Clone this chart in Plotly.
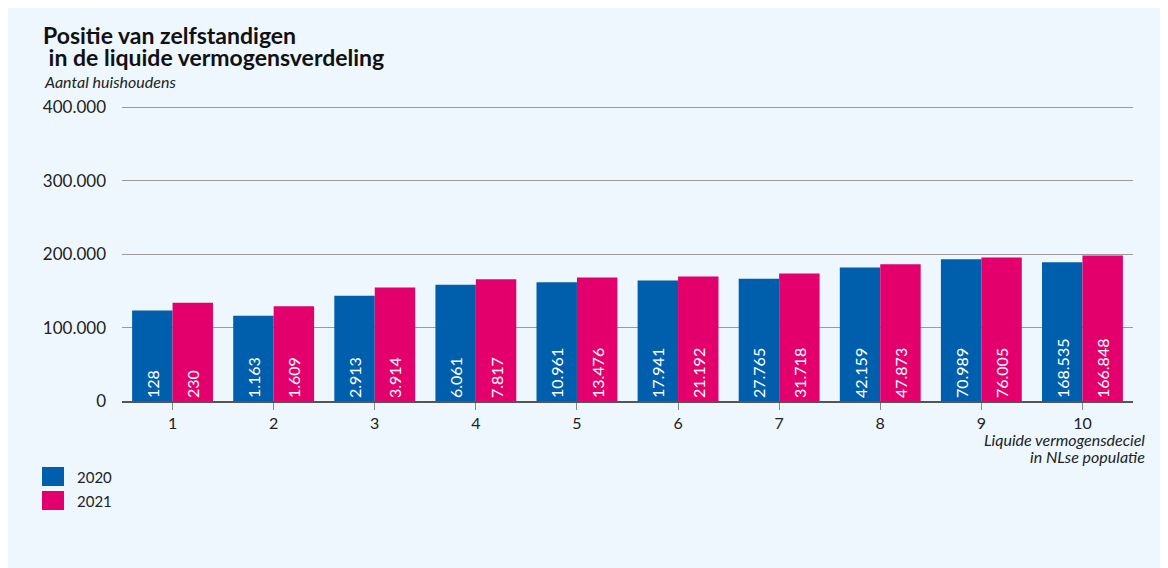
import plotly.graph_objects as go

W, H = 1168, 568
OFF = 8  # page body margin
L, R = 114, 43
T, B = 92, 175

categories = ["1", "2", "3", "4", "5", "6", "7", "8", "9", "10"]
values_2020 = [123400, 116000, 143300, 158200, 161900, 164200, 166400, 181900, 193200, 189100]
values_2021 = [133700, 129200, 154700, 166000, 168300, 169600, 173700, 186400, 195500, 198200]
labels_2020 = ["128", "1.163", "2.913", "6.061", "10.961", "17.941", "27.765", "42.159", "70.989", "168.535"]
labels_2021 = ["230", "1.609", "3.914", "7.817", "13.476", "21.192", "31.718", "47.873", "76.005", "166.848"]
y_ticks = [0, 100000, 200000, 300000, 400000]
y_tick_labels = ["0", "100.000", "200.000", "300.000", "400.000"]

BLUE = "#005FAD"
PINK = "#E3006D"
BG = "#EDF7FD"
FONT = "Lato"

pw, ph = W - L - R, H - T - B


def px(x):
    return (x - OFF - L) / pw


def py(y):
    return (H - B - (y - OFF)) / ph


fig = go.Figure()
for name, vals, labs, col in [("2020", values_2020, labels_2020, BLUE),
                               ("2021", values_2021, labels_2021, PINK)]:
    fig.add_trace(go.Bar(
        x=categories, y=vals, name=name, text=labs,
        texttemplate="%{text}", textposition="inside", insidetextanchor="start",
        textangle=-90, textfont=dict(color="white", size=16, family=FONT),
        marker=dict(color=col, line=dict(width=0)),
        cliponaxis=False, hoverinfo="skip",
    ))

annotations = [
    dict(x=px(41), y=py(35), xanchor="left", yanchor="middle",
         text="<b>Positie van zelfstandigen</b>",
         font=dict(size=23, color="#111", family=FONT)),
    dict(x=px(41), y=py(57.5), xanchor="left", yanchor="middle",
         text="<b> in de liquide vermogensverdeling</b>",
         font=dict(size=23, color="#111", family=FONT)),
    dict(x=px(42), y=py(81.5), xanchor="left", yanchor="middle",
         text="<i>Aantal huishoudens</i>", font=dict(size=16, color="#222", family=FONT)),
    dict(x=px(1147), y=py(439), xanchor="right", yanchor="middle",
         text="<i>Liquide vermogensdeciel</i>",
         font=dict(size=16, color="#222", family=FONT)),
    dict(x=px(1147), y=py(457), xanchor="right", yanchor="middle",
         text="<i>in NLse populatie</i>",
         font=dict(size=16, color="#222", family=FONT)),
    dict(x=px(75), y=py(477), xanchor="left", yanchor="middle",
         text="2020", font=dict(size=15, color="#222", family=FONT)),
    dict(x=px(75), y=py(501), xanchor="left", yanchor="middle",
         text="2021", font=dict(size=15, color="#222", family=FONT)),
]
for a in annotations:
    a.update(xref="paper", yref="paper", showarrow=False)

shapes = [
    dict(type="rect", xref="paper", yref="paper", x0=px(42), x1=px(64), y0=py(467), y1=py(486),
         fillcolor=BLUE, line=dict(width=0)),
    dict(type="rect", xref="paper", yref="paper", x0=px(42), x1=px(64), y0=py(491), y1=py(510),
         fillcolor=PINK, line=dict(width=0)),
]

fig.update_layout(
    width=W, height=H,
    margin=dict(l=L, r=R, t=T, b=B, pad=0),
    paper_bgcolor=BG, plot_bgcolor=BG,
    barmode="group", bargap=0.2, bargroupgap=0,
    showlegend=False,
    font=dict(family=FONT, color="#222"),
    annotations=annotations, shapes=shapes,
    uniformtext=dict(minsize=16, mode="show"),
)
fig.update_xaxes(
    type="category", range=[-0.5, 9.5],
    showline=True, linecolor="#555", linewidth=2,
    ticks="outside", ticklen=7, tickcolor="#888", tickwidth=1,
    tickfont=dict(size=16, color="#222", family=FONT),
    showgrid=False, zeroline=False, fixedrange=True,
)
fig.update_yaxes(
    range=[0, 410000], tickvals=y_ticks, ticktext=y_tick_labels,
    showgrid=True, gridcolor="#9a9a9a", gridwidth=1,
    zeroline=False, showline=False, ticks="",
    ticklabelstandoff=15,
    tickfont=dict(size=17, color="#222", family=FONT),
    fixedrange=True,
)

fig.write_html("out.html")
